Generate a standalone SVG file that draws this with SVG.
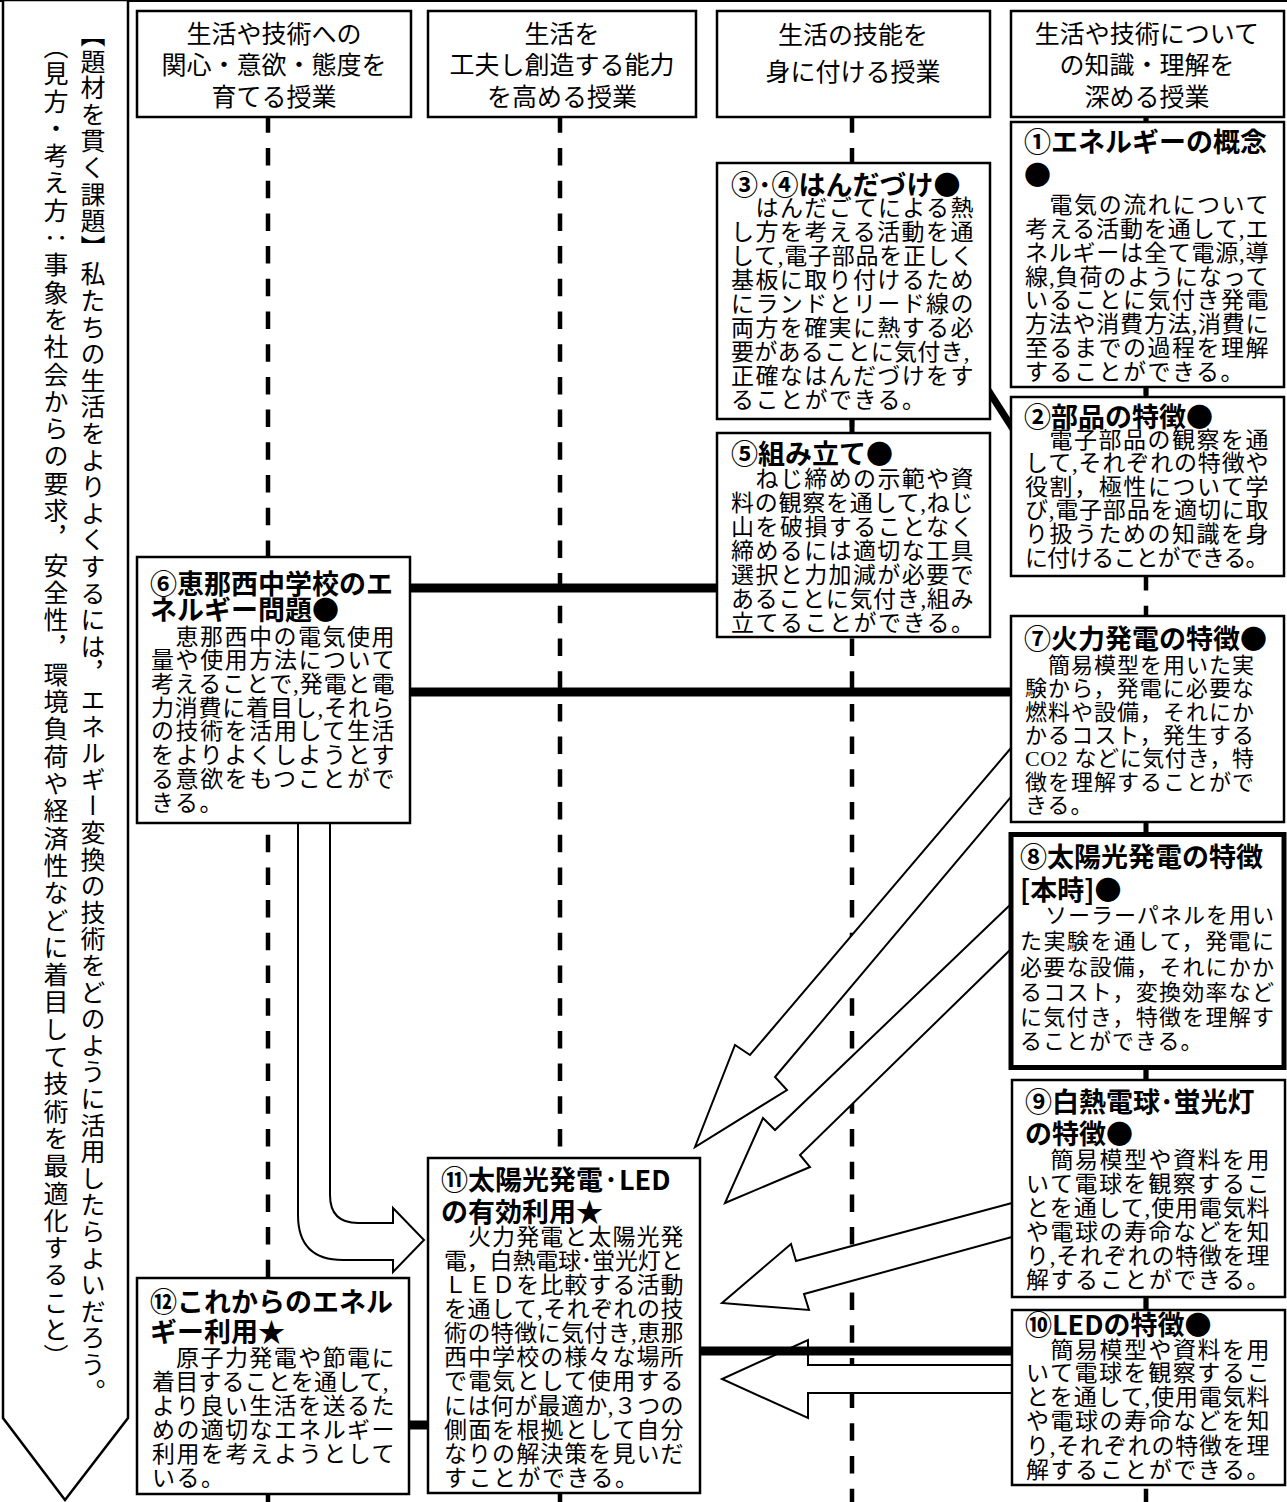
<svg xmlns="http://www.w3.org/2000/svg" width="1287" height="1502" viewBox="0 0 1287 1502">
<style>
.bx{fill:#fff;stroke:#000;stroke-width:2.5}
.bx8{fill:#fff;stroke:#000;stroke-width:5}
.hd{font-family:"Noto Sans CJK JP",sans-serif;font-size:25px;text-anchor:middle;dominant-baseline:central}
.tt{font-family:"Noto Sans CJK JP",sans-serif;font-size:27px;font-weight:bold;dominant-baseline:central}
.bd{font-family:"Liberation Serif","Noto Sans CJK JP",serif;font-size:23px;letter-spacing:1.5px;dominant-baseline:central}
.bs{font-family:"Liberation Serif","Noto Sans CJK JP",serif;font-size:22px;letter-spacing:1px;dominant-baseline:central}
.vt{font-family:"Noto Sans CJK JP",sans-serif;font-size:25px;writing-mode:vertical-rl}
.dl{stroke:#000;stroke-width:4.5;stroke-dasharray:17.5 15.2;fill:none}
.tk{stroke:#000;stroke-width:9;fill:none}
.sg{stroke:#000;stroke-width:5;fill:none}
.ar{fill:#fff;stroke:#000;stroke-width:2;stroke-linejoin:miter}
</style>
<rect width="1287" height="1502" fill="#fff"/>
<g id="frame">
<line x1="0" y1="1" x2="1287" y2="1" stroke="#000" stroke-width="2"/>
<polygon points="3,0 3,1418 65,1500 128,1418 128,0" fill="#fff" stroke="#000" stroke-width="2.5"/>
<text class="vt" x="93" y="22" style="letter-spacing:1.6px">【題材を貫く課題】私たちの生活をよりよくするには，エネルギー変換の技術をどのように活用したらよいだろう。</text>
<text class="vt" x="56" y="34" style="letter-spacing:2.3px">（見方・考え方：事象を社会からの要求，安全性，環境負荷や経済性などに着目して技術を最適化すること）</text>
</g>
<g id="connectors">
<line class="dl" x1="268" y1="115.3" x2="268" y2="1502"/>
<line class="dl" x1="560" y1="115.3" x2="560" y2="1502"/>
<line class="dl" x1="852" y1="115.3" x2="852" y2="1502"/>
<line class="dl" x1="1146" y1="115.3" x2="1146" y2="1502"/>
<line class="sg" x1="1146" y1="115" x2="1146" y2="124"/>
<line class="sg" x1="1146" y1="385" x2="1146" y2="399"/>
<line class="sg" x1="1146" y1="820" x2="1146" y2="834"/>
<line class="sg" x1="1146" y1="1068" x2="1146" y2="1082"/>
<line class="sg" x1="1146" y1="1295" x2="1146" y2="1312"/>
<line class="sg" x1="852" y1="417" x2="852" y2="435"/>
<line class="tk" x1="410" y1="588" x2="717" y2="588"/>
<line class="tk" x1="410" y1="692" x2="1011" y2="692"/>
<line class="tk" x1="409" y1="1425" x2="428" y2="1425" stroke-width="8"/>
<line x1="988" y1="390" x2="1013" y2="429" stroke="#000" stroke-width="7"/>
<path class="ar" d="M298,823 V1215 Q298,1260 343,1260 H393 V1272 L424,1240 L393,1208 V1223 H358 Q330,1223 330,1195 V823"/>
<polygon class="ar" points="1011,748 750,1055 735,1045 695,1147 787,1090 775,1077 1011,797"/>
<polygon class="ar" points="1010,905 775,1130 763,1118 725,1203 810,1167 800,1155 1010,950"/>
<polygon class="ar" points="1012,1203 796,1261 791,1244 722,1303 809,1310 804,1294 1012,1237"/>
<polygon class="ar" points="1012,1365 808,1365 808,1340 722,1379 808,1418 808,1393 1012,1393"/>
<line class="tk" x1="700" y1="1351" x2="1012" y2="1351"/>
</g>
<g id="h1"><rect class="bx" x="137" y="11" width="274" height="106"/>
<text class="hd" x="274" y="32">生活や技術への</text><text class="hd" x="274" y="63">関心・意欲・態度を</text><text class="hd" x="274" y="95">育てる授業</text></g>
<g id="h2"><rect class="bx" x="428" y="11" width="268" height="106"/>
<text class="hd" x="562" y="32">生活を</text><text class="hd" x="562" y="63">工夫し創造する能力</text><text class="hd" x="562" y="95">を高める授業</text></g>
<g id="h3"><rect class="bx" x="717" y="11" width="273" height="106"/>
<text class="hd" x="853" y="33">生活の技能を</text><text class="hd" x="853" y="70">身に付ける授業</text></g>
<g id="h4"><rect class="bx" x="1011" y="11" width="273" height="106"/>
<text class="hd" x="1147" y="32">生活や技術について</text><text class="hd" x="1147" y="63">の知識・理解を</text><text class="hd" x="1147" y="95">深める授業</text></g>

<g id="n1"><rect class="bx" x="1011" y="122" width="273" height="265"/>
<text class="tt" x="1024" y="140">①エネルギーの概念</text><text class="tt" x="1024" y="173">●</text>
<text class="bd" x="1049.5" y="205" textLength="220.5">電気の流れについて</text>
<text class="bd" x="1025" y="229" textLength="245">考える活動を通して,エ</text>
<text class="bd" x="1025" y="253" textLength="245">ネルギーは全て電源,導</text>
<text class="bd" x="1025" y="277" textLength="245">線,負荷のようになって</text>
<text class="bd" x="1025" y="300" textLength="245">いることに気付き発電</text>
<text class="bd" x="1025" y="324" textLength="245">方法や消費方法,消費に</text>
<text class="bd" x="1025" y="348" textLength="245">至るまでの過程を理解</text>
<text class="bd" x="1025" y="372">することができる。</text></g>

<g id="n2"><rect class="bx" x="1011" y="397" width="273" height="179"/>
<text class="tt" x="1024" y="415">②部品の特徴●</text>
<text class="bd" x="1049.5" y="440" textLength="220.5">電子部品の観察を通</text>
<text class="bd" x="1025" y="463" textLength="245">して,それぞれの特徴や</text>
<text class="bd" x="1025" y="487" textLength="245">役割，極性について学</text>
<text class="bd" x="1025" y="510" textLength="245">び,電子部品を適切に取</text>
<text class="bd" x="1025" y="534" textLength="245">り扱うための知識を身</text>
<text class="bd" x="1025" y="558" textLength="245">に付けることができる。</text></g>

<g id="n34"><rect class="bx" x="717" y="163" width="273" height="256"/>
<text class="tt" x="731" y="183">③･④はんだづけ●</text>
<text class="bd" x="755.5" y="208" textLength="219.5">はんだごてによる熱</text>
<text class="bd" x="731" y="232" textLength="244">し方を考える活動を通</text>
<text class="bd" x="731" y="256" textLength="244">して,電子部品を正しく</text>
<text class="bd" x="731" y="280" textLength="244">基板に取り付けるため</text>
<text class="bd" x="731" y="304" textLength="244">にランドとリード線の</text>
<text class="bd" x="731" y="328" textLength="244">両方を確実に熱する必</text>
<text class="bd" x="731" y="352" textLength="240">要があることに気付き,</text>
<text class="bd" x="731" y="376" textLength="244">正確なはんだづけをす</text>
<text class="bd" x="731" y="400">ることができる。</text></g>

<g id="n5"><rect class="bx" x="717" y="433" width="273" height="204"/>
<text class="tt" x="731" y="452">⑤組み立て●</text>
<text class="bd" x="755.5" y="479" textLength="219.5">ねじ締めの示範や資</text>
<text class="bd" x="731" y="503" textLength="244">料の観察を通して,ねじ</text>
<text class="bd" x="731" y="527" textLength="244">山を破損することなく</text>
<text class="bd" x="731" y="551" textLength="244">締めるには適切な工具</text>
<text class="bd" x="731" y="575" textLength="244">選択と力加減が必要で</text>
<text class="bd" x="731" y="599" textLength="244">あることに気付き,組み</text>
<text class="bd" x="731" y="623">立てることができる。</text></g>

<g id="n6"><rect class="bx" x="137" y="557" width="273" height="266"/>
<text class="tt" x="150" y="582">⑥恵那西中学校のエ</text><text class="tt" x="150" y="608">ネルギー問題●</text>
<text class="bd" x="175.5" y="637" textLength="220.5">恵那西中の電気使用</text>
<text class="bd" x="151" y="660" textLength="245">量や使用方法について</text>
<text class="bd" x="151" y="684" textLength="245">考えることで,発電と電</text>
<text class="bd" x="151" y="708" textLength="245">力消費に着目し,それら</text>
<text class="bd" x="151" y="731" textLength="245">の技術を活用して生活</text>
<text class="bd" x="151" y="755" textLength="245">をよりよくしようとす</text>
<text class="bd" x="151" y="779" textLength="245">る意欲をもつことがで</text>
<text class="bd" x="151" y="803">きる。</text></g>

<g id="n7"><rect class="bx" x="1011" y="616" width="273" height="206"/>
<text class="tt" x="1024" y="637">⑦火力発電の特徴●</text>
<text class="bs" x="1048" y="665" textLength="207">簡易模型を用いた実</text>
<text class="bs" x="1025" y="688" textLength="230">験から，発電に必要な</text>
<text class="bs" x="1025" y="712" textLength="230">燃料や設備，それにか</text>
<text class="bs" x="1025" y="735" textLength="230">かるコスト，発生する</text>
<text class="bs" x="1025" y="758" textLength="230">CO2 などに気付き，特</text>
<text class="bs" x="1025" y="782" textLength="230">徴を理解することがで</text>
<text class="bs" x="1025" y="805">きる。</text></g>

<g id="n8"><rect class="bx8" x="1011" y="834.5" width="273" height="233"/>
<text class="tt" x="1020" y="855">⑧太陽光発電の特徴</text><text class="tt" x="1020" y="888">[本時]●</text>
<text class="bs" x="1045" y="915" textLength="230">ソーラーパネルを用い</text>
<text class="bs" x="1020" y="941" textLength="255">た実験を通して，発電に</text>
<text class="bs" x="1020" y="967" textLength="255">必要な設備，それにかか</text>
<text class="bs" x="1020" y="992" textLength="255">るコスト，変換効率など</text>
<text class="bs" x="1020" y="1017" textLength="255">に気付き，特徴を理解す</text>
<text class="bs" x="1020" y="1041">ることができる。</text></g>

<g id="n9"><rect class="bx" x="1012" y="1080" width="273" height="217"/>
<text class="tt" x="1025" y="1100">⑨白熱電球･蛍光灯</text><text class="tt" x="1025" y="1132">の特徴●</text>
<text class="bd" x="1050.5" y="1160" textLength="220.5">簡易模型や資料を用</text>
<text class="bd" x="1026" y="1184" textLength="245">いて電球を観察するこ</text>
<text class="bd" x="1026" y="1208" textLength="245">とを通して,使用電気料</text>
<text class="bd" x="1026" y="1232" textLength="245">や電球の寿命などを知</text>
<text class="bd" x="1026" y="1256" textLength="245">り,それぞれの特徴を理</text>
<text class="bd" x="1026" y="1280" textLength="245">解することができる。</text></g>

<g id="n10"><rect class="bx" x="1012" y="1310" width="273" height="175"/>
<text class="tt" x="1025" y="1323">⑩LEDの特徴●</text>
<text class="bd" x="1050.5" y="1350" textLength="220.5">簡易模型や資料を用</text>
<text class="bd" x="1026" y="1373" textLength="245">いて電球を観察するこ</text>
<text class="bd" x="1026" y="1397" textLength="245">とを通して,使用電気料</text>
<text class="bd" x="1026" y="1421" textLength="245">や電球の寿命などを知</text>
<text class="bd" x="1026" y="1446" textLength="245">り,それぞれの特徴を理</text>
<text class="bd" x="1026" y="1470" textLength="245">解することができる。</text></g>

<g id="n11"><rect class="bx" x="428" y="1158" width="272" height="335"/>
<text class="tt" x="441" y="1178">⑪太陽光発電·LED</text><text class="tt" x="441" y="1210">の有効利用★</text>
<text class="bd" x="468" y="1237" textLength="217">火力発電と太陽光発</text>
<text class="bd" x="444" y="1261" textLength="241">電，白熱電球･蛍光灯と</text>
<text class="bd" x="444" y="1285" textLength="241">ＬＥＤを比較する活動</text>
<text class="bd" x="444" y="1309" textLength="241">を通して,それぞれの技</text>
<text class="bd" x="444" y="1333" textLength="241">術の特徴に気付き,恵那</text>
<text class="bd" x="444" y="1357" textLength="241">西中学校の様々な場所</text>
<text class="bd" x="444" y="1381" textLength="241">で電気として使用する</text>
<text class="bd" x="444" y="1406" textLength="241">には何が最適か,３つの</text>
<text class="bd" x="444" y="1430" textLength="241">側面を根拠として自分</text>
<text class="bd" x="444" y="1454" textLength="241">なりの解決策を見いだ</text>
<text class="bd" x="444" y="1478">すことができる。</text></g>

<g id="n12"><rect class="bx" x="137" y="1278" width="272" height="216"/>
<text class="tt" x="150" y="1300">⑫これからのエネル</text><text class="tt" x="150" y="1330">ギー利用★</text>
<text class="bd" x="176" y="1358" textLength="220">原子力発電や節電に</text>
<text class="bd" x="152" y="1382" textLength="238">着目することを通して,</text>
<text class="bd" x="152" y="1406" textLength="244">より良い生活を送るた</text>
<text class="bd" x="152" y="1430" textLength="244">めの適切なエネルギー</text>
<text class="bd" x="152" y="1454" textLength="244">利用を考えようとして</text>
<text class="bd" x="152" y="1478">いる。</text></g>
</svg>
